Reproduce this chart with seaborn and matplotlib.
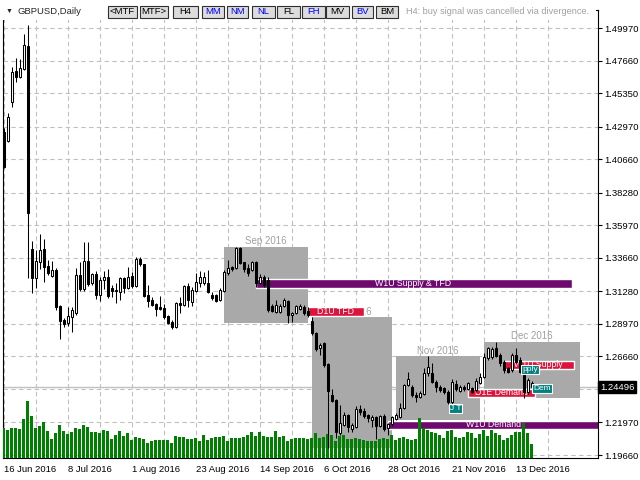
import matplotlib
matplotlib.use("Agg")
import matplotlib.pyplot as plt
from matplotlib.patches import Rectangle
import numpy as np
import pandas as pd
import seaborn as sns

# GBPUSD daily bars (16 Jun 2016 .. 19 Dec 2016)
opens = [1.4261, 1.4197, 1.4469, 1.4692, 1.4647, 1.4706, 1.4869, 1.3426, 1.3220, 1.3338,
         1.3426, 1.3308, 1.3237, 1.3279, 1.3024, 1.2924, 1.2901, 1.2943, 1.2976, 1.3244,
         1.3142, 1.3343, 1.3185, 1.3251, 1.3102, 1.3208, 1.3227, 1.3149, 1.3137, 1.3126,
         1.3220, 1.3154, 1.3237, 1.3166, 1.3355, 1.3320, 1.3102, 1.3066, 1.3038, 1.3014,
         1.3007, 1.2953, 1.2913, 1.2872, 1.3043, 1.3031, 1.3166, 1.3055, 1.3133, 1.3185,
         1.3189, 1.3189, 1.3102, 1.3102, 1.3066, 1.3132, 1.3256, 1.3298, 1.3291, 1.3433,
         1.3334, 1.3291, 1.3279, 1.3338, 1.3189, 1.3232, 1.3208, 1.3024, 1.2984, 1.2984,
         1.3024, 1.3062, 1.2960, 1.2976, 1.3000, 1.3019, 1.2990, 1.2920, 1.2834, 1.2723,
         1.2759, 1.2612, 1.2392, 1.2357, 1.2121, 1.2179, 1.2250, 1.2148, 1.2167, 1.2290,
         1.2281, 1.2250, 1.2214, 1.2238, 1.2172, 1.2243, 1.2155, 1.2186, 1.2220, 1.2238,
         1.2300, 1.2463, 1.2451, 1.2392, 1.2380, 1.2399, 1.2546, 1.2550, 1.2487, 1.2451,
         1.2439, 1.2416, 1.2345, 1.2470, 1.2423, 1.2451, 1.2432, 1.2439, 1.2427, 1.2480,
         1.2522, 1.2652, 1.2664, 1.2723, 1.2676, 1.2629, 1.2581, 1.2569, 1.2676, 1.2640,
         1.2557, 1.2416, 1.2475]
highs = [1.4290, 1.4391, 1.4718, 1.4782, 1.4775, 1.4954, 1.5018, 1.3485, 1.3421, 1.3535,
         1.3497, 1.3350, 1.3346, 1.3291, 1.3030, 1.2936, 1.3014, 1.3014, 1.3291, 1.3338,
         1.3480, 1.3480, 1.3256, 1.3275, 1.3227, 1.3275, 1.3284, 1.3173, 1.3185, 1.3232,
         1.3232, 1.3298, 1.3268, 1.3369, 1.3369, 1.3325, 1.3173, 1.3090, 1.3042, 1.3095,
         1.3038, 1.2958, 1.2924, 1.3050, 1.3090, 1.3173, 1.3189, 1.3161, 1.3256, 1.3275,
         1.3268, 1.3279, 1.3125, 1.3110, 1.3149, 1.3280, 1.3350, 1.3310, 1.3445, 1.3445,
         1.3338, 1.3320, 1.3345, 1.3340, 1.3250, 1.3244, 1.3227, 1.3035, 1.3066, 1.3040,
         1.3078, 1.3066, 1.2984, 1.3030, 1.3038, 1.3031, 1.3020, 1.2943, 1.2840, 1.2764,
         1.2771, 1.2620, 1.2432, 1.2365, 1.2321, 1.2274, 1.2257, 1.2196, 1.2314, 1.2321,
         1.2297, 1.2257, 1.2250, 1.2243, 1.2250, 1.2257, 1.2196, 1.2243, 1.2262, 1.2333,
         1.2470, 1.2558, 1.2463, 1.2416, 1.2420, 1.2581, 1.2669, 1.2617, 1.2499, 1.2463,
         1.2451, 1.2427, 1.2503, 1.2499, 1.2460, 1.2463, 1.2487, 1.2450, 1.2510, 1.2546,
         1.2688, 1.2735, 1.2730, 1.2770, 1.2690, 1.2640, 1.2590, 1.2688, 1.2723, 1.2664,
         1.2581, 1.2510, 1.2490]
lows = [1.4000, 1.4190, 1.4434, 1.4616, 1.4640, 1.4699, 1.3220, 1.3114, 1.3149, 1.3284,
        1.3197, 1.3244, 1.3232, 1.2995, 1.2787, 1.2872, 1.2882, 1.2842, 1.2960, 1.3133,
        1.3133, 1.3166, 1.3173, 1.3071, 1.3062, 1.3142, 1.3078, 1.3090, 1.3047, 1.3066,
        1.3114, 1.3142, 1.3149, 1.3161, 1.3308, 1.3090, 1.3014, 1.3024, 1.2953, 1.2995,
        1.2929, 1.2896, 1.2858, 1.2865, 1.2972, 1.3024, 1.3019, 1.3024, 1.3126, 1.3161,
        1.3173, 1.3113, 1.3066, 1.3050, 1.3062, 1.3125, 1.3244, 1.3270, 1.3284, 1.3320,
        1.3268, 1.3240, 1.3270, 1.3161, 1.3180, 1.3160, 1.2984, 1.2980, 1.2976, 1.2976,
        1.3019, 1.2905, 1.2912, 1.2970, 1.2995, 1.2960, 1.2943, 1.2818, 1.2705, 1.2676,
        1.2593, 1.2016, 1.2340, 1.2085, 1.2110, 1.2170, 1.2132, 1.2132, 1.2160, 1.2250,
        1.2226, 1.2203, 1.2167, 1.2077, 1.2165, 1.2139, 1.2108, 1.2170, 1.2214, 1.2230,
        1.2295, 1.2455, 1.2380, 1.2345, 1.2370, 1.2392, 1.2530, 1.2480, 1.2416, 1.2416,
        1.2400, 1.2328, 1.2330, 1.2420, 1.2410, 1.2420, 1.2425, 1.2405, 1.2410, 1.2470,
        1.2515, 1.2640, 1.2650, 1.2660, 1.2600, 1.2550, 1.2545, 1.2557, 1.2620, 1.2550,
        1.2368, 1.2400, 1.2430]
closes = [1.4013, 1.4368, 1.4687, 1.4647, 1.4711, 1.4876, 1.3682, 1.3220, 1.3343, 1.3421,
          1.3303, 1.3260, 1.3279, 1.3019, 1.2920, 1.2896, 1.2953, 1.2995, 1.3244, 1.3142,
          1.3343, 1.3178, 1.3251, 1.3102, 1.3208, 1.3232, 1.3095, 1.3133, 1.3133, 1.3220,
          1.3154, 1.3232, 1.3166, 1.3355, 1.3320, 1.3095, 1.3062, 1.3031, 1.3000, 1.3000,
          1.2948, 1.2906, 1.2872, 1.3047, 1.3031, 1.3166, 1.3066, 1.3137, 1.3197, 1.3227,
          1.3232, 1.3125, 1.3083, 1.3062, 1.3137, 1.3268, 1.3291, 1.3284, 1.3433, 1.3327,
          1.3284, 1.3256, 1.3338, 1.3185, 1.3227, 1.3173, 1.2995, 1.2991, 1.3031, 1.3024,
          1.3066, 1.2960, 1.2976, 1.3024, 1.3024, 1.2976, 1.2958, 1.2830, 1.2716, 1.2747,
          1.2605, 1.2423, 1.2352, 1.2130, 1.2196, 1.2250, 1.2167, 1.2179, 1.2290, 1.2274,
          1.2243, 1.2226, 1.2238, 1.2172, 1.2243, 1.2148, 1.2186, 1.2233, 1.2250, 1.2300,
          1.2463, 1.2503, 1.2392, 1.2380, 1.2404, 1.2546, 1.2588, 1.2487, 1.2451, 1.2427,
          1.2416, 1.2345, 1.2487, 1.2432, 1.2447, 1.2432, 1.2475, 1.2416, 1.2494, 1.2522,
          1.2664, 1.2723, 1.2716, 1.2669, 1.2617, 1.2569, 1.2557, 1.2676, 1.2629, 1.2557,
          1.2416, 1.2498, 1.2450]
volumes = [90, 83, 88, 88, 85, 116, 170, 125, 90, 94, 106, 80, 56, 74, 98, 80, 72, 78, 88, 86,
           98, 92, 78, 76, 74, 82, 80, 56, 68, 80, 65, 74, 53, 61, 60, 55, 44, 50, 53, 53,
           54, 54, 44, 64, 61, 61, 56, 56, 58, 50, 68, 53, 58, 61, 61, 64, 50, 58, 60, 60,
           62, 68, 77, 66, 77, 66, 62, 62, 80, 62, 64, 50, 56, 60, 60, 60, 56, 60, 74, 58,
           63, 70, 68, 50, 66, 68, 55, 56, 60, 56, 53, 50, 50, 50, 56, 60, 56, 68, 53, 60,
           63, 56, 53, 56, 118, 88, 83, 78, 73, 68, 60, 80, 83, 63, 60, 63, 78, 73, 60, 70,
           83, 66, 83, 73, 68, 53, 60, 68, 76, 78, 103, 73, 40]

date_ticks = [0, 16, 32, 48, 64, 80, 96, 112, 128]
date_labels = ["16 Jun 2016", "8 Jul 2016", "1 Aug 2016", "23 Aug 2016", "14 Sep 2016",
               "6 Oct 2016", "28 Oct 2016", "21 Nov 2016", "13 Dec 2016"]
price_ticks = [1.4997, 1.4766, 1.4535, 1.4297, 1.4066, 1.3828, 1.3597, 1.3366, 1.3128,
               1.2897, 1.2666, 1.2433, 1.2197, 1.1966]
price_labels = ["1.49970", "1.47660", "1.45350", "1.42970", "1.40660", "1.38280", "1.35970",
                "1.33660", "1.31280", "1.28970", "1.26660", "", "1.21970", "1.19660"]
last_price = 1.24496

# monthly range boxes (first bar, last bar)
month_names = ["Sep 2016", "Oct 2016", "Nov 2016", "Dec 2016"]
month_first = [55, 77, 98, 120]
month_last = [76, 97, 119, 144]

# supply / demand zones
zone_labels = ["W1U Supply & TFD", "W1U Demand", "D1U TFD", "D1E Demand", "W1U Supply"]
zone_start = [63, 96, 76, 116, 125]
zone_end = [142, 149, 90, 132.75, 142.5]
zone_top = [1.3215, 1.2210, 1.3017, 1.2438, 1.2633]
zone_bottom = [1.3151, 1.2151, 1.2953, 1.2378, 1.2577]
zone_colors = ["#6E0A6E", "#6E0A6E", "#DC143C", "#DC143C", "#DC143C"]

tag_texts = ["J T", "pply", "Dem"]
tag_bars = [113, 131.6, 134.7]
tag_prices = [1.2296, 1.2570, 1.2440]

buttons = ["<MTF", "MTF>", "H4", "MM", "NM", "NL", "FL", "FH", "MV", "BV", "BM"]
button_colors = ["black", "black", "black", "blue", "blue", "blue", "black", "blue", "black", "blue", "black"]
button_left = [108, 140, 173, 202, 227, 252, 277, 302, 326, 352, 376]
button_right = [137, 168, 198, 224, 248, 275, 300, 325, 349, 373, 398]

sns.set_style("white")
plt.rcParams["font.family"] = ["Liberation Sans", "DejaVu Sans"]

W, H = 640, 480
fig = plt.figure(figsize=(6.4, 4.8), dpi=100)


def fx(px):
    return px / W


def fy(py):
    return 1 - py / H


# chart frame: x 2.5..597.5 px, y 10..458 px; bar centres land on pixel centres
ax = fig.add_axes([fx(2.5), fy(458), 595 / W, 448 / H])
ax.set_xlim(-0.25, 148.5)
ax.set_ylim(1.19448, 1.51248)
ax.set_axisbelow(True)

n = len(closes)
idx = np.arange(n)
o = np.array(opens)
c = np.array(closes)
hi = np.array(highs)
lo = np.array(lows)

# monthly boxes
for name, a, b in zip(month_names, month_first, month_last):
    seg = slice(a, min(b, n - 1) + 1)
    top, bot = hi[seg].max(), lo[seg].min()
    ax.add_patch(Rectangle((a, bot), b - a, top - bot, facecolor="#A9A9A9",
                           edgecolor="none", zorder=1))
    ax.text((a + b) / 2, top + 0.0016, name, ha="center", va="baseline",
            color="#A0A0A0", fontsize=7, zorder=1.2)

# zones
for lab, a, b, t, btm, col in zip(zone_labels, zone_start, zone_end, zone_top, zone_bottom, zone_colors):
    ax.add_patch(Rectangle((a, btm), b - a, t - btm, facecolor=col, edgecolor="white",
                           lw=1, zorder=2))
    ax.text(min((a + b) / 2, 148), (t + btm) / 2, lab, color="white", fontsize=6.3,
            ha="center", va="center", zorder=2.1)

# volume on an overlay axis, trimmed to 1px columns
vax = ax.inset_axes([0, 0, 1, 1], zorder=2.5)
vol_df = pd.DataFrame({"bar": idx, "volume": volumes})
sns.barplot(data=vol_df, x="bar", y="volume", native_scale=True, color="#008000",
            saturation=1, width=0.3, errorbar=None, ax=vax)
for patch in vax.patches:
    mid = patch.get_x() + patch.get_width() / 2
    patch.set_width(0.3)
    patch.set_x(mid - 0.15)
    patch.set_facecolor("#008000")
    patch.set_linewidth(0)
    patch.set_antialiased(False)
    patch.set_snap(False)
vax.set_xlim(ax.get_xlim())
vax.set_ylim(0, 1344)
vax.set_axis_off()

# candles
ax.axhline(last_price, color="#C0C0C0", lw=1, zorder=0.8)
ax.vlines(idx, lo, hi, color="black", lw=0.75, zorder=3)
up = c >= o
body_h = np.maximum(np.abs(c - o), 0.00012)
ax.bar(idx, body_h, bottom=np.minimum(o, c), width=0.5,
       color=np.where(up, "white", "black"), edgecolor="black", linewidth=0.75, zorder=3.1)

for t, b, p in zip(tag_texts, tag_bars, tag_prices):
    ax.text(b, p, t, color="white", fontsize=6, ha="center", va="center", zorder=4,
            bbox=dict(boxstyle="square,pad=0.12", fc="#008080", ec="white", lw=0.8))

# axes styling
ax.yaxis.tick_right()
ax.set_yticks(price_ticks)
ax.set_yticklabels(price_labels)
ax.set_xticks(date_ticks)
ax.set_xticklabels(date_labels, ha="left")
ax.set_xticks(np.arange(8, 149, 16), minor=True)
ax.tick_params(axis="both", which="major", direction="out", length=3, width=0.8,
               pad=2, labelsize=6.8, colors="black")
ax.tick_params(which="minor", length=0)
ax.grid(True, which="major", color="#C0C0C0", linestyle=(0, (4, 3)), lw=0.8)
ax.xaxis.grid(True, which="minor", color="#C0C0C0", linestyle=(0, (4, 3)), lw=0.8)
for side in ["left", "bottom", "right", "top"]:
    ax.spines[side].set_color("black")
    ax.spines[side].set_linewidth(0.8)

fig.text(fx(600), fy(387), f"{last_price:.5f}", color="white", fontsize=6.8, ha="left",
         va="center", bbox=dict(boxstyle="square,pad=0.2", fc="black", ec="black"))

# header panel over the top of the chart
fig.add_artist(Rectangle((0, fy(20)), fx(596), 20 / H, transform=fig.transFigure,
                         facecolor="white", edgecolor="none", zorder=1))
fig.text(fx(6), fy(11), "\u25BC", fontsize=5, va="center", ha="left", zorder=3)
fig.text(fx(17), fy(11), "GBPUSD,Daily", fontsize=6.8, va="center", ha="left", zorder=3)
for lab, col, x0, x1 in zip(buttons, button_colors, button_left, button_right):
    fig.add_artist(Rectangle((fx(x0), fy(18)), (x1 - x0) / W, 12 / H, transform=fig.transFigure,
                             facecolor="#DCDCDC", edgecolor="#303030", lw=0.8, zorder=2))
    fig.text(fx((x0 + x1) / 2), fy(12), lab, color=col, fontsize=6.8, ha="center",
             va="center", zorder=3)
fig.text(fx(406), fy(12), "H4: buy signal was cancelled via divergence.", color="#A0A0A0",
         fontsize=6.6, ha="left", va="center", zorder=3)

fig.savefig("out.png", dpi=100)
plt.close(fig)
